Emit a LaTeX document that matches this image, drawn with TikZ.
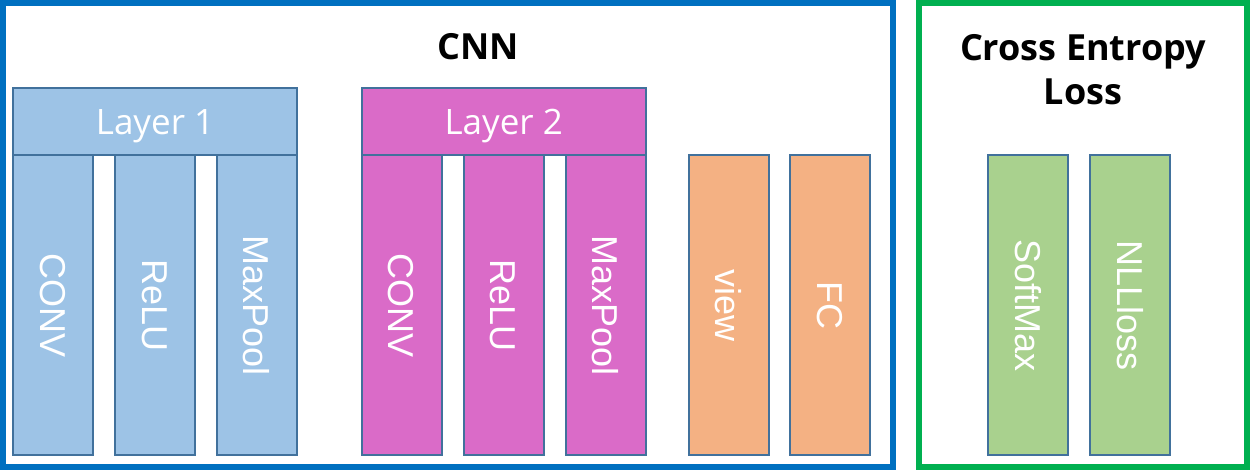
\documentclass[tikz,border=0pt]{standalone}
\usepackage{fontspec}
\setmainfont{Open Sans}
\newfontfamily\arialf{Liberation Sans}
\definecolor{frameblue}{HTML}{0070C0}
\definecolor{framegreen}{HTML}{00B050}
\definecolor{edgeblue}{HTML}{41719C}
\definecolor{fillblue}{HTML}{9DC3E6}
\definecolor{fillpink}{HTML}{DA6BC8}
\definecolor{fillorange}{HTML}{F4B183}
\definecolor{fillgreen}{HTML}{A9D18E}
\tikzset{
  frame/.style={line width=6pt},
  header/.style={draw=edgeblue, line width=2pt, inner sep=0pt, minimum width=284pt, minimum height=67pt, text=white, text height=25pt, text depth=0pt, font=\fontsize{35}{40}\selectfont},
  col/.style={draw=edgeblue, line width=2pt, inner sep=0pt, rotate=-90, minimum width=300pt, minimum height=80pt, text=white, text height=26pt, text depth=0pt, font=\arialf\fontsize{36}{40}\selectfont},
  title/.style={align=center, font=\bfseries\fontsize{36}{44}\selectfont}
}
\begin{document}
\begin{tikzpicture}[x=1pt,y=-1pt]
\useasboundingbox (0,0) rectangle (1250,470);
\draw[frame, frameblue] (3,3) rectangle (893,467);
\draw[frame, framegreen] (919,3) rectangle (1247,467);
\node[title] (cnn) at (478,47) {CNN};
\node[title] (cel) at (1083,70) {Cross Entropy\\Loss};
% Layer 1
\node[header, fill=fillblue] (l1) at (155,122) {Layer 1};
\node[col, fill=fillblue] (c1) at (53.3,305.3) {CONV};
\node[col, fill=fillblue] (r1) at (155,305.3) {ReLU};
\node[col, fill=fillblue] (m1) at (256.7,305.3) {MaxPool};
% Layer 2
\node[header, fill=fillpink] (l2) at (503.7,122) {Layer 2};
\node[col, fill=fillpink] (c2) at (401.7,305.3) {CONV};
\node[col, fill=fillpink] (r2) at (503.7,305.3) {ReLU};
\node[col, fill=fillpink] (m2) at (605.7,305.3) {MaxPool};
% view / FC
\node[col, fill=fillorange] (v) at (728.7,305.3) {view};
\node[col, fill=fillorange] (fc) at (830.3,305.3) {FC};
% loss
\node[col, fill=fillgreen] (sm) at (1028.3,305.3) {SoftMax};
\node[col, fill=fillgreen] (nl) at (1130.3,305.3) {NLLloss};
\end{tikzpicture}
\end{document}
